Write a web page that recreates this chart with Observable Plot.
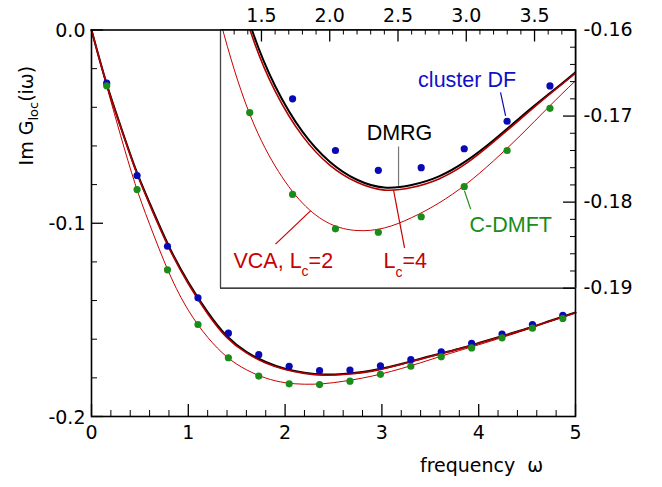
<!DOCTYPE html>
<html><head><meta charset="utf-8">
<script src="https://cdn.jsdelivr.net/npm/d3@7"></script>
<script src="https://cdn.jsdelivr.net/npm/@observablehq/plot@0.6"></script>
<style>
html,body{margin:0;padding:0;background:#fff;}
#wrap{position:relative;width:662px;height:487px;overflow:hidden;}
#wrap > svg{position:absolute;left:0;top:0;}
</style></head><body><div id="wrap"></div>
<script>
// ---- data ----
const omegaN = [0.157, 0.471, 0.785, 1.100, 1.414, 1.728, 2.042, 2.356, 2.670, 2.985, 3.299, 3.613, 3.927, 4.241, 4.555, 4.869];
const clusterDF = [-0.0275, -0.0753, -0.1119, -0.1386, -0.1569, -0.1680, -0.1740, -0.1763, -0.1760, -0.1738, -0.1706, -0.1665, -0.1621, -0.1573, -0.1524, -0.1476];
const cdmft = [-0.0289, -0.0826, -0.1241, -0.1524, -0.1696, -0.1791, -0.1831, -0.1835, -0.1817, -0.1782, -0.1740, -0.1691, -0.1645, -0.1593, -0.1543, -0.1493];

const omegaCurve = [0, 0.15, 0.3, 0.45, 0.6, 0.8, 1.0, 1.2, 1.4, 1.6, 1.8, 2.0, 2.2, 2.4, 2.6, 2.8, 3.0, 3.2, 3.4, 3.6, 3.8, 4.0, 4.25, 4.5, 4.75, 5.0];
const dmrg   = [0, -0.0268, -0.0497, -0.0712, -0.0895, -0.1120, -0.1305, -0.1460, -0.1585, -0.1665, -0.1718, -0.1753, -0.1774, -0.1783, -0.1780, -0.1770, -0.1752, -0.1728, -0.1701, -0.1675, -0.1649, -0.1620, -0.1583, -0.1545, -0.1503, -0.1462];
const vcaLc4 = [0, -0.0271, -0.0502, -0.0718, -0.0902, -0.1127, -0.1313, -0.1468, -0.1592, -0.1671, -0.1723, -0.1757, -0.1777, -0.1786, -0.1783, -0.1773, -0.1755, -0.1730, -0.1703, -0.1676, -0.1650, -0.1621, -0.1584, -0.1546, -0.1504, -0.1463];
const vcaLc2 = [0, -0.0278, -0.0545, -0.0795, -0.1005, -0.1255, -0.1450, -0.1590, -0.1692, -0.1758, -0.1801, -0.1825, -0.1833, -0.1830, -0.1818, -0.1801, -0.1779, -0.1752, -0.1722, -0.1690, -0.1659, -0.1629, -0.1590, -0.1549, -0.1505, -0.1463];

// ---- ticks ----
const mainXTicks = [0, 1, 2, 3, 4, 5];
const mainXMinor = [0.2, 0.4, 0.6, 0.8, 1.2, 1.4, 1.6, 1.8, 2.2, 2.4, 2.6, 2.8, 3.2, 3.4, 3.6, 3.8, 4.2, 4.4, 4.6, 4.8];
const mainYTicks = [0, -0.1, -0.2];
const mainYMinor = [-0.02, -0.04, -0.06, -0.08, -0.12, -0.14, -0.16, -0.18];
const insetXTicks = [1.5, 2.0, 2.5, 3.0, 3.5];
const insetXMinor = [1.3, 1.4, 1.6, 1.7, 1.8, 1.9, 2.1, 2.2, 2.3, 2.4, 2.6, 2.7, 2.8, 2.9, 3.1, 3.2, 3.3, 3.4, 3.6, 3.7];
const insetYTicks = [-0.16, -0.17, -0.18, -0.19];
const insetYMinor = [-0.162, -0.164, -0.166, -0.168, -0.172, -0.174, -0.176, -0.178, -0.182, -0.184, -0.186, -0.188];

// ---- colours ----
const BLUE = "#0a0ab4", GREEN = "#1a8c1a", RED = "#c80000", DRED = "#b00000";

// ---- annotations (inset coordinates) ----
const insetLabels = [
  {text: "cluster DF", x: 3.006, y: -0.1666, color: "#1010c8", anchor: "middle"},
  {text: "DMRG", x: 2.511, y: -0.1728, color: "black", anchor: "middle"},
  {text: "C-DMFT", x: 3.024, y: -0.1835, color: GREEN, anchor: "start"},
  {text: "VCA, L_c=2", x: 1.295, y: -0.1876, color: RED, anchor: "start"},
  {text: "L_c=4", x: 2.394, y: -0.1877, color: RED, anchor: "start"}
];
const insetPointers = [
  {x1: 3.251, y1: -0.16726, x2: 3.288, y2: -0.16997, color: BLUE},
  {x1: 2.504, y1: -0.17353, x2: 2.504, y2: -0.1781, color: "#777"},
  {x1: 2.987, y1: -0.17869, x2: 3.032, y2: -0.18081, color: GREEN},
  {x1: 1.603, y1: -0.18488, x2: 1.859, y2: -0.18101, color: RED},
  {x1: 2.467, y1: -0.17857, x2: 2.548, y2: -0.18531, color: RED}
];

const curveRows = omegaCurve.map((w, i) => ({w, dmrg: dmrg[i], lc4: vcaLc4[i], lc2: vcaLc2[i]}));
const pointRows = omegaN.map((w, i) => ({w, df: clusterDF[i], cd: cdmft[i]}));

const FONT = "DejaVu Sans";
const LABEL_FONT = "Liberation Sans, Arial, sans-serif";

function seriesMarks(clip) {
  return [
    Plot.line(curveRows, {x: "w", y: "lc2", stroke: RED, strokeWidth: 1, curve: "natural", clip}),
    Plot.line(curveRows, {x: "w", y: "dmrg", stroke: "black", strokeWidth: 2, curve: "natural", clip}),
    Plot.line(curveRows, {x: "w", y: "lc4", stroke: DRED, strokeWidth: 1.6, curve: "natural", clip}),
    Plot.dot(pointRows, {x: "w", y: "df", r: 3.6, fill: BLUE, stroke: "none", clip}),
    Plot.dot(pointRows, {x: "w", y: "cd", r: 3.6, fill: GREEN, stroke: "none", clip})
  ];
}

// tick lengths expressed in data units of each panel
const MX = 5 / 484, MY = 0.2 / 386.5;       // main: data per pixel
const IX = 2.6 / 355, IY = 0.03 / 258.2;    // inset: data per pixel

const main = Plot.plot({
  width: 662, height: 487,
  marginLeft: 91, marginRight: 87, marginTop: 29.5, marginBottom: 71,
  x: {domain: [0, 5], label: null},
  y: {domain: [-0.2, 0], label: null},
  style: {background: "white", fontFamily: FONT, fontSize: "19px", color: "black"},
  marks: [
    ...seriesMarks(false),
    Plot.ruleX(mainXMinor, {x: d => d, y1: -0.2, y2: -0.2 + 6 * MY, stroke: "black", strokeWidth: 1}),
    Plot.ruleX(mainXTicks, {x: d => d, y1: -0.2, y2: -0.2 + 12 * MY, stroke: "black", strokeWidth: 1.3}),
    Plot.ruleY(mainYMinor, {y: d => d, x1: 0, x2: 6 * MX, stroke: "black", strokeWidth: 1}),
    Plot.ruleY(mainYTicks, {y: d => d, x1: 0, x2: 12 * MX, stroke: "black", strokeWidth: 1.3}),
    Plot.frame({stroke: "black", strokeWidth: 1.6}),
    Plot.axisX({ticks: mainXTicks, tickSize: 0, tickPadding: 9, tickFormat: d => String(d), label: null, fontSize: 19}),
    Plot.axisY({ticks: mainYTicks, tickSize: 0, tickPadding: 6, tickFormat: d => d.toFixed(1), label: null, fontSize: 19, dy: 1}),
    Plot.text(["Im G_loc(iω)"], {x: -0.6, y: -0.0443, text: d => d, rotate: -90, textAnchor: "middle", lineAnchor: "bottom", fontSize: 19, fill: "black"}),
    Plot.text(["frequency\u00a0\u00a0ω"], {x: 4.03, y: -0.2289, text: d => d, textAnchor: "middle", lineAnchor: "bottom", fontSize: 19, fill: "black"})
  ]
});

const inset = Plot.plot({
  width: 662, height: 487,
  marginLeft: 220, marginRight: 87, marginTop: 29.5, marginBottom: 199.3,
  x: {domain: [1.2, 3.8], label: null},
  y: {domain: [-0.19, -0.16], label: null},
  style: {background: "transparent", fontFamily: FONT, fontSize: "19px", color: "black"},
  marks: [
    Plot.frame({fill: "white", stroke: "none"}),
    ...seriesMarks(true),
    Plot.ruleX([1.2], {stroke: "#444", strokeWidth: 1.3}),
    Plot.ruleY([-0.19], {stroke: "black", strokeWidth: 1.2}),
    Plot.ruleX([3.8], {stroke: "black", strokeWidth: 1.6}),
    Plot.ruleY([-0.16], {stroke: "black", strokeWidth: 1.6}),
    Plot.ruleX(insetXMinor, {x: d => d, y1: -0.16, y2: -0.16 - 5 * IY, stroke: "black", strokeWidth: 1}),
    Plot.ruleX(insetXTicks, {x: d => d, y1: -0.16, y2: -0.16 - 12 * IY, stroke: "black", strokeWidth: 1.3}),
    Plot.ruleY(insetYMinor, {y: d => d, x1: 3.8, x2: 3.8 - 5 * IX, stroke: "black", strokeWidth: 1}),
    Plot.ruleY(insetYTicks, {y: d => d, x1: 3.8, x2: 3.8 - 12 * IX, stroke: "black", strokeWidth: 1.3}),
    Plot.axisX({anchor: "top", ticks: insetXTicks, tickSize: 0, tickPadding: 8, tickFormat: d => d.toFixed(1), label: null, fontSize: 19}),
    Plot.axisY({anchor: "right", ticks: insetYTicks, tickSize: 0, tickPadding: 8, tickFormat: d => d.toFixed(2), label: null, fontSize: 19}),
    ...insetPointers.map(p => Plot.link([p], {x1: "x1", y1: "y1", x2: "x2", y2: "y2", stroke: p.color, strokeWidth: 1.2})),
    ...insetLabels.map(l => Plot.text([l], {x: "x", y: "y", text: "text", fill: l.color, textAnchor: l.anchor, lineAnchor: "bottom", fontSize: 21.5, fontFamily: LABEL_FONT}))
  ]
});

const wrap = document.getElementById("wrap");
wrap.appendChild(main);
wrap.appendChild(inset);

// subscripts
const subShift = {"Im G_loc(iω)": [5, 13], "VCA, L_c=2": [8.5, 14], "L_c=4": [8.5, 14]};
const NS = "http://www.w3.org/2000/svg";
document.querySelectorAll("#wrap text").forEach(t => {
  const s = t.textContent;
  const m = s.match(/^(.*?)_([a-z]+)(.*)$/);
  if (!m) return;
  const [shift, fs] = subShift[s] || [6, 13];
  t.textContent = "";
  const a = document.createElementNS(NS, "tspan"); a.textContent = m[1];
  const b = document.createElementNS(NS, "tspan"); b.textContent = m[2];
  b.setAttribute("dy", shift); b.setAttribute("font-size", fs);
  const c = document.createElementNS(NS, "tspan"); c.textContent = m[3];
  c.setAttribute("dy", -shift);
  t.append(a, b, c);
});
</script></body></html>
